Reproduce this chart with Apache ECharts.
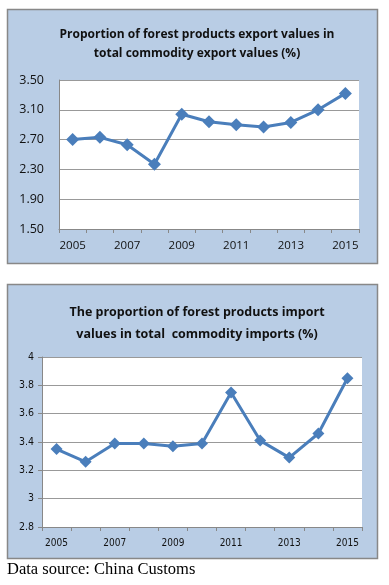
<!DOCTYPE html>
<html><head><meta charset="utf-8">
<script src="https://cdn.jsdelivr.net/npm/echarts@6/dist/echarts.min.js"></script>
<style>html,body{margin:0;padding:0;background:#fff}#c{width:389px;height:585px}</style>
</head><body><div id="c"></div>
<script>
const years = ['2005','2006','2007','2008','2009','2010','2011','2012','2013','2014','2015'];
const exportShare = [2.70, 2.73, 2.63, 2.37, 3.04, 2.94, 2.90, 2.87, 2.93, 3.10, 3.32];
const importShare = [3.35, 3.26, 3.39, 3.39, 3.37, 3.39, 3.75, 3.41, 3.29, 3.46, 3.85];
const exportTitle = 'Proportion of forest products export values in\ntotal commodity export values (%)';
const importTitle = 'The proportion of forest products import\nvalues in total  commodity imports (%)';
const sourceNote = 'Data source: China Customs';

const chart = echarts.init(document.getElementById('c'), null, {renderer:'canvas'});
const lineColor = '#4A7EBB';
const panelFill = '#B9CDE5';
chart.setOption({
  animation:false,
  graphic:[
    {type:'rect', shape:{x:7.5,y:9.5,width:370,height:254}, style:{fill:panelFill, stroke:'#888', lineWidth:1.5}, z:-10},
    {type:'rect', shape:{x:7.5,y:284.5,width:370,height:274}, style:{fill:panelFill, stroke:'#888', lineWidth:1.5}, z:-10},
    {type:'text', left:7, top:561, style:{text:sourceNote, font:'16.5px "Liberation Serif"', fill:'#000'}}
  ],
  title:[
    {text:exportTitle, left:192, top:20, textAlign:'center',
     textStyle:{fontFamily:'Open Sans', fontWeight:'bold', fontSize:12, color:'#111', lineHeight:19}},
    {text:importTitle, left:192, top:296, textAlign:'center',
     textStyle:{fontFamily:'Open Sans', fontWeight:'bold', fontSize:12.5, color:'#111', lineHeight:22}}
  ],
  grid:[
    {left:59, right:30, top:80, height:149, show:true, backgroundColor:'#fff', borderWidth:0},
    {left:42, right:27, top:357, height:170, show:true, backgroundColor:'#fff', borderWidth:0}
  ],
  xAxis:[
    {type:'category', gridIndex:0, data:years, boundaryGap:true,
     axisLine:{lineStyle:{color:'#888'}}, axisTick:{show:true, length:4, lineStyle:{color:'#888'}},
     axisLabel:{interval:0, formatter:(v,i)=> i%2===0 ? v : '', fontFamily:'Open Sans', fontSize:11.5, color:'#111', margin:11}},
    {type:'category', gridIndex:1, data:years, boundaryGap:true,
     axisLine:{lineStyle:{color:'#888'}}, axisTick:{show:true, length:4, lineStyle:{color:'#888'}},
     axisLabel:{interval:0, formatter:(v,i)=> i%2===0 ? v : '', fontFamily:'DejaVu Sans Condensed', fontSize:10, color:'#111', margin:11}}
  ],
  yAxis:[
    {type:'value', gridIndex:0, min:1.5, max:3.5, interval:0.4,
     axisLine:{show:true, lineStyle:{color:'#888'}}, axisTick:{show:false},
     splitLine:{lineStyle:{color:'#999', width:1}},
     axisLabel:{formatter:v=>v.toFixed(2), fontFamily:'Open Sans', fontSize:12.5, color:'#111', margin:15}},
    {type:'value', gridIndex:1, min:2.8, max:4, interval:0.2,
     axisLine:{show:true, lineStyle:{color:'#888'}}, axisTick:{show:true, length:4, lineStyle:{color:'#888'}},
     splitLine:{lineStyle:{color:'#999', width:1}},
     axisLabel:{formatter:v=>String(Math.round(v*10)/10), fontFamily:'DejaVu Sans Condensed', fontSize:10.5, color:'#111', margin:8}}
  ],
  series:[
    {type:'line', xAxisIndex:0, yAxisIndex:0, data:exportShare, symbol:'diamond', symbolSize:13,
     lineStyle:{color:lineColor, width:3}, itemStyle:{color:lineColor}},
    {type:'line', xAxisIndex:1, yAxisIndex:1, data:importShare, symbol:'diamond', symbolSize:12,
     lineStyle:{color:lineColor, width:3}, itemStyle:{color:lineColor}}
  ]
});
</script></body></html>
